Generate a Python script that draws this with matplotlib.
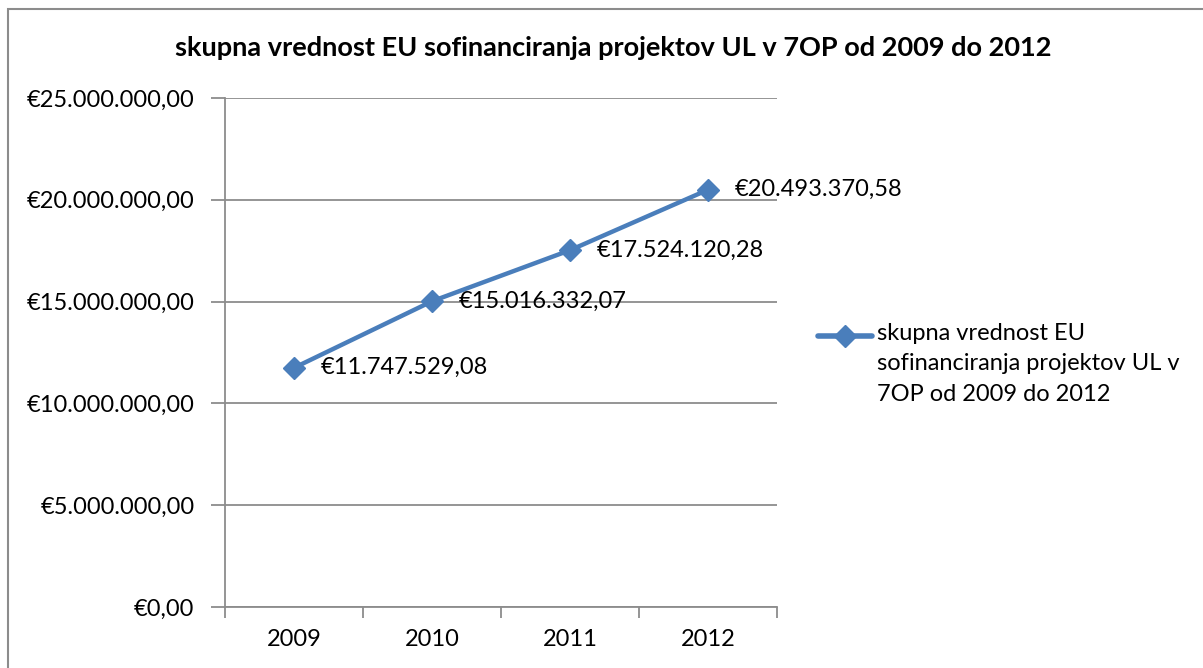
import matplotlib
matplotlib.use("Agg")
import matplotlib.pyplot as plt
from matplotlib.ticker import FuncFormatter, FixedLocator
from matplotlib.patches import Rectangle
from matplotlib.lines import Line2D

years = ["2009", "2010", "2011", "2012"]
values = [11747529.08, 15016332.07, 17524120.28, 20493370.58]
title = "skupna vrednost EU sofinanciranja projektov UL v 7OP od 2009 do 2012"
legend_label = "skupna vrednost EU\nsofinanciranja projektov UL v\n7OP od 2009 do 2012"

FONT = ["Lato", "DejaVu Sans"]
plt.rcParams["font.family"] = FONT
FS = 17

def eur(v, pos=None):
    s = f"{v:,.2f}"
    s = s.replace(",", "X").replace(".", ",").replace("X", ".")
    return "€" + s

W, H = 1203, 668
fig = plt.figure(figsize=(W / 100, H / 100), dpi=100)
fig.patch.set_facecolor("white")

# outer chart border (cropped on right and bottom)
fig.patches.append(Rectangle((8 / W, -0.1), 1.2, (H - 8.5) / H + 0.1, transform=fig.transFigure,
                             fill=False, edgecolor="#8c8c8c", linewidth=1.5))

ax = fig.add_axes([225 / W, (H - 607) / H, (777 - 225) / W, (607 - 98) / H])
x = list(range(len(years)))
line_color = "#4A7EBB"
line, = ax.plot(x, values, color=line_color, linewidth=3.2, marker="D", markersize=11,
                markerfacecolor=line_color, markeredgecolor=line_color, solid_capstyle="round",
                zorder=3)

ax.set_xlim(-0.5, len(years) - 0.5)
ax.set_ylim(0, 25000000)
ax.yaxis.set_major_locator(FixedLocator([0, 5e6, 10e6, 15e6, 20e6, 25e6]))
ax.yaxis.set_major_formatter(FuncFormatter(eur))
ax.grid(axis="y", color="#8c8c8c", linewidth=1.3, zorder=1)

ax.set_xticks([i - 0.5 for i in range(len(years) + 1)])
ax.set_xticklabels([])
ax.set_xticks(x, minor=True)
ax.set_xticklabels(years, minor=True)
ax.tick_params(axis="x", which="major", length=8, width=1.3, color="#8c8c8c", direction="out")
ax.tick_params(axis="x", which="minor", length=0, pad=16, labelsize=FS)
ax.tick_params(axis="y", length=10, width=1.3, color="#8c8c8c", direction="out", pad=12,
               labelsize=FS)

for side in ["top", "right"]:
    ax.spines[side].set_visible(False)
for side in ["left", "bottom"]:
    ax.spines[side].set_color("#8c8c8c")
    ax.spines[side].set_linewidth(1.3)

for xi, v in zip(x, values):
    ax.annotate(eur(v), (xi, v), xytext=(19, 0), textcoords="offset points",
                ha="left", va="center", fontsize=FS, zorder=4)

fig.text(613 / W, 1 - 48 / H, title, ha="center", va="center", fontsize=19.5,
         fontweight="bold")

# legend: handle aligned with the first text line (Excel style)
ly = 1 - 336 / H
fig.add_artist(Line2D([818 / W, 872 / W], [ly, ly], transform=fig.transFigure,
                      color=line_color, linewidth=4, solid_capstyle="round"))
fig.add_artist(Line2D([845 / W], [ly], transform=fig.transFigure, color=line_color,
                      marker="D", markersize=11, linestyle="none"))
fig.text(877 / W, 1 - 323 / H, legend_label, ha="left", va="top", fontsize=FS,
         linespacing=1.55)

fig.savefig("out.png", dpi=100)
